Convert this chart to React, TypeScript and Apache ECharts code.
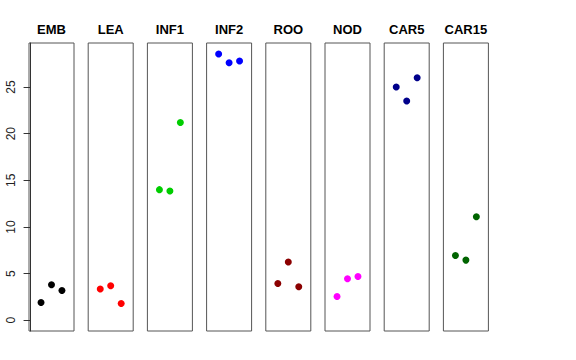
import React, { useEffect, useRef } from "react";
import * as echarts from "echarts";

const categories = ["EMB", "LEA", "INF1", "INF2", "ROO", "NOD", "CAR5", "CAR15"];
const colors = ["#000000", "#FF0000", "#00CD00", "#0000FF", "#8B0000", "#FF00FF", "#00008B", "#006400"];
const replicate = [1, 2, 3];
const EMB = [1.9, 3.8, 3.2];
const LEA = [3.35, 3.7, 1.8];
const INF1 = [14.0, 13.85, 21.2];
const INF2 = [28.55, 27.6, 27.8];
const ROO = [3.95, 6.25, 3.6];
const NOD = [2.55, 4.45, 4.7];
const CAR5 = [25.0, 23.5, 26.0];
const CAR15 = [6.95, 6.45, 11.1];
const values = [EMB, LEA, INF1, INF2, ROO, NOD, CAR5, CAR15];
const yTicks = [0, 5, 10, 15, 20, 25];

export default function App() {
  const ref = useRef<HTMLDivElement>(null);
  useEffect(() => {
    if (!ref.current) return;
    const chart = echarts.init(ref.current, null, { renderer: "svg" });
    const left0 = 29;
    const pitch = 59.2;
    const w = 45;
    const top = 43;
    const h = 288;
    const grids: any[] = [];
    const xAxes: any[] = [];
    const yAxes: any[] = [];
    const series: any[] = [];
    const graphics: any[] = [];
    categories.forEach((c, i) => {
      const l = left0 + i * pitch;
      grids.push({
        left: l,
        top,
        width: w,
        height: h,
        show: true,
        borderColor: "#555",
        borderWidth: 1,
        backgroundColor: "transparent",
        containLabel: false,
      });
      xAxes.push({
        type: "value",
        gridIndex: i,
        min: -0.15,
        max: 4.15,
        show: false,
      });
      yAxes.push({
        type: "value",
        gridIndex: i,
        min: -1.15,
        max: 29.72,
        show: i === 0,
        splitLine: { show: false },
        axisLine: { show: true, lineStyle: { color: "#333", width: 1 } },
        axisTick: {
          show: true,
          length: 7,
          customValues: yTicks,
          lineStyle: { color: "#333", width: 1 },
        },
        axisLabel: {
          show: true,
          customValues: yTicks,
          rotate: 90,
          margin: 12,
          fontSize: 12,
          color: "#222",
          fontFamily: "Liberation Sans, Arial, sans-serif",
        },
      });
      series.push({
        type: "scatter",
        xAxisIndex: i,
        yAxisIndex: i,
        symbolSize: 7,
        itemStyle: { color: colors[i], opacity: 1 },
        data: replicate.map((x, j) => [x, values[i][j]]),
      });
      graphics.push({
        type: "text",
        x: l + w / 2,
        y: 29,
        style: {
          text: c,
          fontSize: 13,
          fontWeight: "bold",
          fontFamily: "Liberation Sans, Arial, sans-serif",
          fill: "#000",
          textAlign: "center",
          textVerticalAlign: "middle",
        },
      });
    });
    chart.setOption({
      animation: false,
      backgroundColor: "#ffffff",
      grid: grids,
      xAxis: xAxes,
      yAxis: yAxes,
      series,
      graphic: graphics,
    });
    return () => chart.dispose();
  }, []);
  return (
    <div
      ref={ref}
      style={{ position: "fixed", left: 0, top: 0, width: 576, height: 360 }}
    />
  );
}
